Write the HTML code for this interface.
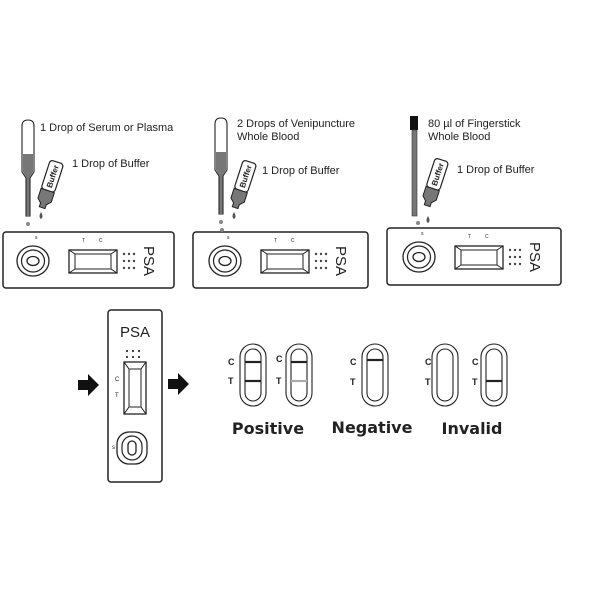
<!DOCTYPE html>
<html><head><meta charset="utf-8"><style>
html,body{margin:0;padding:0;background:#fff;width:600px;height:600px;overflow:hidden}
svg{display:block}
text{font-family:"Liberation Sans",Arial,sans-serif;fill:#222}
.b{font-family:"DejaVu Sans","Liberation Sans",sans-serif;font-weight:bold}
</style></head><body>
<svg width="600" height="600" viewBox="0 0 600 600" xmlns="http://www.w3.org/2000/svg">
<defs>
<g id="cas">
  <ellipse cx="30" cy="29" rx="16" ry="15" fill="none" stroke="#222" stroke-width="1.3"/>
  <ellipse cx="30" cy="29" rx="11.5" ry="11" fill="none" stroke="#222" stroke-width="1.2"/>
  <ellipse cx="30" cy="29" rx="6" ry="4.5" fill="none" stroke="#222" stroke-width="1.3"/>
  <rect x="66" y="18" width="48" height="23" fill="none" stroke="#222" stroke-width="1.3"/>
  <rect x="72" y="22" width="36" height="15" fill="none" stroke="#222" stroke-width="1"/>
  <path d="M66 18L72 22M114 18L108 22M66 41L72 37M114 41L108 37" stroke="#222" stroke-width="1"/>
  <g fill="#444"><circle cx="121" cy="22" r="1.2"/><circle cx="126" cy="22" r="1.2"/><circle cx="131" cy="22" r="1.2"/>
  <circle cx="121" cy="29" r="1.2"/><circle cx="126" cy="29" r="1.2"/><circle cx="131" cy="29" r="1.2"/>
  <circle cx="121" cy="36" r="1.2"/><circle cx="126" cy="36" r="1.2"/><circle cx="131" cy="36" r="1.2"/></g>
  <text x="0" y="0" font-size="15" transform="translate(141,29) rotate(90)" text-anchor="middle">PSA</text>
  <text x="32" y="7" font-size="5">s</text>
  <text x="79" y="10" font-size="5">T</text>
  <text x="96" y="10" font-size="5">C</text>
</g>
<g id="bottle">
  <rect x="-7" y="0" width="14" height="30" rx="3" fill="#fff" stroke="#222" stroke-width="1.2"/>
  <path d="M-7 30 L7 30 L7 40 L3 44 L3 48 L-3 48 L-3 44 L-7 40Z" fill="#777" stroke="#222" stroke-width="1"/>
  <text x="0" y="0" font-size="8" transform="translate(3,15) rotate(-90)" text-anchor="middle" style="font-weight:bold">Buffer</text>
</g>
<g id="pip">
  <path d="M0 52 L0 6 Q0 0 6 0 Q12 0 12 6 L12 52 L8 58 L8 96 L4 96 L4 58 Z" fill="#fff" stroke="#222" stroke-width="1.1"/>
  <path d="M1 34 L11 34 L11 52 L7.5 58 L7.5 96 L4.5 96 L4.5 58 L1 52Z" fill="#777"/>
</g>
<g id="arr"><path d="M0 -5 L10 -5 L10 -11 L21 0 L10 11 L10 5 L0 5Z" fill="#111"/></g>
</defs>

<!-- Panel 1 -->
<rect x="3" y="232" width="171" height="56" rx="3" fill="#fff" stroke="#222" stroke-width="1.5"/>
<use href="#cas" x="3" y="232"/>
<use href="#pip" x="22" y="120"/>
<circle cx="28" cy="224" r="2" fill="#888"/>
<g transform="translate(57,162) rotate(18)"><use href="#bottle"/></g>
<path d="M41 212 q-3 5 0 7 q3 -2 0 -7z" fill="#555"/>
<text x="40" y="131" font-size="11">1 Drop of Serum or Plasma</text>
<text x="72" y="167" font-size="11">1 Drop of Buffer</text>

<!-- Panel 2 -->
<rect x="193" y="232" width="175" height="56" rx="3" fill="#fff" stroke="#222" stroke-width="1.5"/>
<use href="#cas" x="195" y="232"/>
<use href="#pip" x="215" y="118"/>
<circle cx="221" cy="222" r="2" fill="#888"/><circle cx="222" cy="230" r="2" fill="#888"/>
<g transform="translate(250,162) rotate(18)"><use href="#bottle"/></g>
<path d="M234 212 q-3 5 0 7 q3 -2 0 -7z" fill="#555"/>
<text x="237" y="127" font-size="11">2 Drops of Venipuncture</text>
<text x="237" y="140" font-size="11">Whole Blood</text>
<text x="262" y="174" font-size="11">1 Drop of Buffer</text>

<!-- Panel 3 -->
<rect x="387" y="228" width="174" height="57" rx="3" fill="#fff" stroke="#222" stroke-width="1.5"/>
<use href="#cas" x="389" y="228"/>
<rect x="410" y="116" width="8" height="14" fill="#111"/>
<rect x="412" y="130" width="5" height="86" fill="#777" stroke="#333" stroke-width="0.6"/>
<circle cx="418" cy="223" r="2" fill="#888"/>
<g transform="translate(442,160) rotate(18)"><use href="#bottle"/></g>
<path d="M428 216 q-3 5 0 7 q3 -2 0 -7z" fill="#555"/>
<text x="428" y="127" font-size="11">80 µl of Fingerstick</text>
<text x="428" y="140" font-size="11">Whole Blood</text>
<text x="457" y="173" font-size="11">1 Drop of Buffer</text>

<!-- Vertical cassette -->
<rect x="108" y="310" width="54" height="172" rx="3" fill="#fff" stroke="#222" stroke-width="1.5"/>
<text x="135" y="337" font-size="15" text-anchor="middle">PSA</text>
<g fill="#444"><rect x="126" y="350" width="2" height="2"/><rect x="132" y="350" width="2" height="2"/><rect x="138" y="350" width="2" height="2"/>
<rect x="126" y="356" width="2" height="2"/><rect x="132" y="356" width="2" height="2"/><rect x="138" y="356" width="2" height="2"/></g>
<rect x="124" y="362" width="22" height="52" fill="none" stroke="#222" stroke-width="1.3"/>
<rect x="129" y="369" width="12" height="38" fill="none" stroke="#222" stroke-width="1"/>
<path d="M124 362L129 369M146 362L141 369M124 414L129 407M146 414L141 407" stroke="#222" stroke-width="1"/>
<text x="115" y="381" font-size="6">C</text>
<text x="115" y="397" font-size="6">T</text>
<text x="112" y="449" font-size="6">s</text>
<rect x="117" y="432" width="30" height="32" rx="12" fill="none" stroke="#222" stroke-width="1.3"/>
<rect x="122" y="436" width="20" height="24" rx="10" fill="none" stroke="#222" stroke-width="1.2"/>
<rect x="128" y="441" width="8" height="14" rx="4" fill="none" stroke="#222" stroke-width="1.3"/>

<use href="#arr" x="78" y="385"/>
<use href="#arr" x="168" y="384"/>

<!-- Result strips -->
<g fill="none" stroke="#222" stroke-width="1.1">
  <rect x="240" y="344" width="26" height="62" rx="13"/><rect x="245" y="349" width="16" height="52" rx="8"/>
  <rect x="286" y="344" width="26" height="62" rx="13"/><rect x="291" y="349" width="16" height="52" rx="8"/>
  <rect x="362" y="344" width="26" height="62" rx="13"/><rect x="367" y="349" width="16" height="52" rx="8"/>
  <rect x="432" y="344" width="26" height="62" rx="13"/><rect x="437" y="349" width="16" height="52" rx="8"/>
  <rect x="481" y="344" width="26" height="62" rx="13"/><rect x="486" y="349" width="16" height="52" rx="8"/>
</g>
<g stroke-width="2.2">
  <line x1="245" y1="362" x2="261" y2="362" stroke="#222"/><line x1="245" y1="381" x2="261" y2="381" stroke="#222"/>
  <line x1="291" y1="362" x2="307" y2="362" stroke="#222"/><line x1="291" y1="381" x2="307" y2="381" stroke="#aaa"/>
  <line x1="367" y1="360" x2="383" y2="360" stroke="#222"/>
  <line x1="486" y1="381" x2="502" y2="381" stroke="#222"/>
</g>
<g font-size="9" class="b">
  <text x="228" y="365">C</text><text x="228" y="384">T</text>
  <text x="276" y="362">C</text><text x="276" y="384">T</text>
  <text x="350" y="365">C</text><text x="350" y="385">T</text>
  <text x="425" y="365">C</text><text x="425" y="385">T</text>
  <text x="472" y="365">C</text><text x="472" y="385">T</text>
</g>
<text x="268" y="434" font-size="16" text-anchor="middle" class="b">Positive</text>
<text x="372" y="433" font-size="16" text-anchor="middle" class="b">Negative</text>
<text x="472" y="434" font-size="16" text-anchor="middle" class="b">Invalid</text>
</svg>
</body></html>
